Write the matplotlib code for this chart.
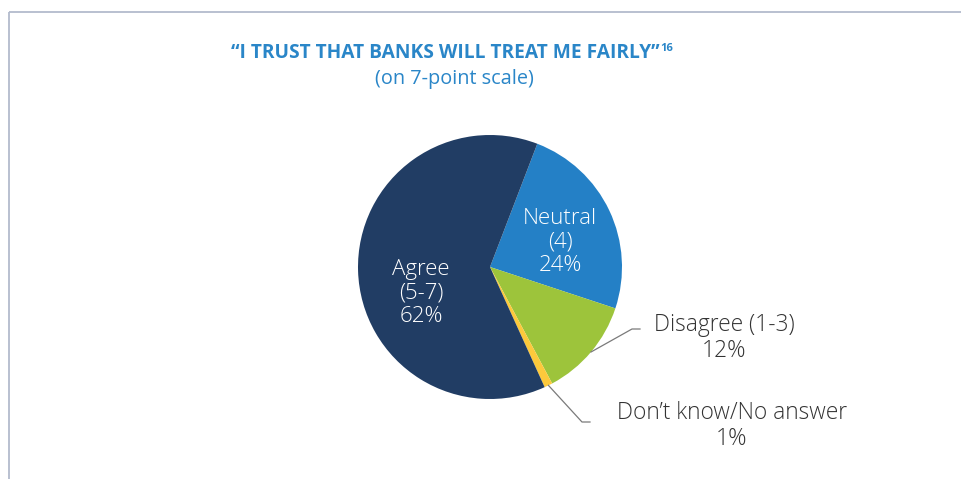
import numpy as np
import matplotlib.pyplot as plt

plt.rcParams['font.family'] = ['Open Sans', 'DejaVu Sans']

# Valori del grafico
labels = ['Agree\n(5-7)', 'Neutral\n(4)', 'Disagree (1-3)', 'Don’t know/No answer']
shares = [62, 24, 12, 1]
colors = ['#213d64', '#2480c6', '#9dc43b', '#fcc93c']
order = [1, 2, 3, 0]  # parte da Neutral in senso orario

title = '“I TRUST THAT BANKS WILL TREAT ME FAIRLY”'
footnote = '16'
subtitle = '(on 7-point scale)'

W, H = 962, 479
fig = plt.figure(figsize=(W / 100, H / 100), dpi=100)
ax = fig.add_axes([0, 0, 1, 1])

# Cornice sottile in alto e a sinistra
ax.plot([9.5, W], [H - 11.5, H - 11.5], color='#b3bbcd', lw=1.3, solid_capstyle='butt')
ax.plot([9.5, 9.5], [0, H - 11.5], color='#b3bbcd', lw=1.3, solid_capstyle='butt')

cx, cy, r = 490, H - 267, 132
vals = [shares[i] for i in order]
cols = [colors[i] for i in order]
wedges, _ = ax.pie(vals, colors=cols, startangle=69, counterclock=False,
                   center=(cx, cy), radius=r, frame=True,
                   wedgeprops=dict(linewidth=0))
ax.set_xlim(0, W)
ax.set_ylim(0, H)
ax.set_aspect('equal')
ax.axis('off')

def mid_point(w, frac=1.0):
    ang = np.deg2rad((w.theta1 + w.theta2) / 2)
    return cx + frac * r * np.cos(ang), cy + frac * r * np.sin(ang)

txt_kw = dict(ha='center', va='center', fontweight='light')

# Etichette interne
ax.text(421, H - 293, f'{labels[0]}\n{shares[0]}%', color='white',
        fontsize=16, linespacing=1.17, **txt_kw)
ax.text(560, H - 242, f'{labels[1]}\n{shares[1]}%', color='white',
        fontsize=16, linespacing=1.17, **txt_kw)

# Etichette esterne con linee di richiamo
line_kw = dict(color='#7a7a7a', lw=0.9)
x0, y0 = mid_point(wedges[1])
ax.plot([x0, 632, 640], [y0, H - 329, H - 329], **line_kw)
ax.text(724, H - 338, f'{labels[2]}\n{shares[2]}%', color='#333333',
        fontsize=16.4, linespacing=1.15, **txt_kw)

x0, y0 = mid_point(wedges[2])
ax.plot([x0, 582, 590], [y0, H - 422, H - 422], **line_kw)
ax.text(732, H - 426, f'{labels[3]}\n{shares[3]}%', color='#333333',
        fontsize=16.4, linespacing=1.15, **txt_kw)

# Titolo
blue = '#2a86c8'
t = ax.text(445, H - 53, title, ha='center', va='center', color=blue,
            fontsize=13.8, fontweight='bold')
ax.text(454, H - 79, subtitle, ha='center', va='center', color=blue, fontsize=14.3)
fig.canvas.draw()
bb = t.get_window_extent().transformed(ax.transData.inverted())
ax.text(bb.x1 + 1, H - 48, footnote, ha='left', va='center', color=blue,
        fontsize=8, fontweight='bold')

fig.savefig('out.png', dpi=100)
